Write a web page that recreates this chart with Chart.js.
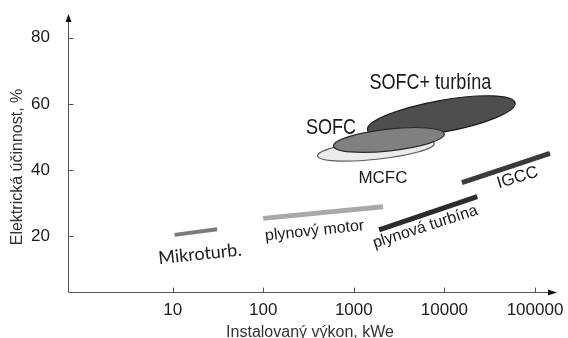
<!DOCTYPE html>
<html>
<head>
<meta charset="utf-8">
<script src="https://cdn.jsdelivr.net/npm/chart.js@4.4.1/dist/chart.umd.min.js"></script>
<style>
  html, body { margin: 0; padding: 0; background: #fff; }
  #wrap { width: 568px; height: 338px; }
</style>
</head>
<body>
<div id="wrap"><canvas id="c"></canvas></div>
<script>
// Axis ticks
const xTicks = [10, 100, 1000, 10000, 100000];
const yTicks = [20, 40, 60, 80];

// Engines and turbines: power range (kWe) and electrical efficiency (%) at both ends
const lineNames = ['Mikroturb.', 'plynový motor', 'plynová turbína', 'IGCC'];
const linePowerKW = [[10.5, 31], [100, 2100], [1900, 23000], [15600, 146000]];
const lineEfficiency = [[20.3, 22.0], [25.3, 28.8], [21.8, 31.9], [36.1, 45.0]];

// Fuel cells: ends of the long axis of each region and its half-thickness (% points)
const cellNames = ['SOFC+ turbína', 'MCFC', 'SOFC'];
const cellPowerKW = [[1416, 60300], [398, 7730], [598, 9960]];
const cellEfficiency = [[52.1, 60.3], [44.2, 48.0], [47.2, 50.9]];
const cellSpread = [4.8, 2.9, 3.3];

// Look of each mark
const lineStyle = {
  'Mikroturb.':      { color: '#7a7a7a', width: 4 },
  'plynový motor':   { color: '#a9a9a9', width: 5 },
  'plynová turbína': { color: '#2b2b2b', width: 5 },
  'IGCC':            { color: '#3a3a3a', width: 5 }
};
const cellStyle = {
  'SOFC+ turbína': { fill: '#4e4e4e', stroke: '#1c1c1c' },
  'MCFC':          { fill: '#ebebeb', stroke: '#5a5a5a' },
  'SOFC':          { fill: '#808080', stroke: '#2a2a2a' }
};

// Name tags placed in data space (kWe, %)
const tags = [
  { text: 'SOFC+ turbína',   at: [6990, 66.3],  angle: 0,   font: '22px "Liberation Sans"', squeeze: 0.82 },
  { text: 'SOFC',            at: [561, 52.6],   angle: 0,   font: '22px "Liberation Sans"', squeeze: 0.82 },
  { text: 'MCFC',            at: [2097, 37.4],  angle: 0,   font: '17px "Liberation Sans"' },
  { text: 'IGCC',            at: [64200, 37.6], angle: -17, font: '17px "Liberation Sans"' },
  { text: 'Mikroturb.',      at: [20, 14.5],    angle: -6,  font: '18px Lato' },
  { text: 'plynový motor',   at: [369, 21.5],   angle: -6,  font: '16px "Liberation Sans"' },
  { text: 'plynová turbína', at: [6150, 22.7],  angle: -18, font: '16px "Liberation Sans"' }
];

const datasets = lineNames.map((name, i) => ({
  label: name,
  type: 'line',
  showLine: true,
  data: [
    { x: linePowerKW[i][0], y: lineEfficiency[i][0] },
    { x: linePowerKW[i][1], y: lineEfficiency[i][1] }
  ],
  borderColor: lineStyle[name].color,
  borderWidth: lineStyle[name].width,
  borderCapStyle: 'butt',
  pointRadius: 0,
  pointHoverRadius: 0,
  clip: false
}));

// Fuel-cell regions drawn as ellipses in the chart's own coordinates
const cellRegions = {
  id: 'cellRegions',
  beforeDatasetsDraw(chart) {
    const { ctx, scales: { x, y } } = chart;
    cellNames.forEach((name, i) => {
      const x1 = x.getPixelForValue(cellPowerKW[i][0]);
      const x2 = x.getPixelForValue(cellPowerKW[i][1]);
      const y1 = y.getPixelForValue(cellEfficiency[i][0]);
      const y2 = y.getPixelForValue(cellEfficiency[i][1]);
      const cx = (x1 + x2) / 2, cy = (y1 + y2) / 2;
      const a = Math.hypot(x2 - x1, y2 - y1) / 2;
      const b = Math.abs(y.getPixelForValue(0) - y.getPixelForValue(cellSpread[i]));
      const rot = Math.atan2(y2 - y1, x2 - x1);
      ctx.save();
      ctx.beginPath();
      ctx.ellipse(cx, cy, a, b, rot, 0, Math.PI * 2);
      ctx.fillStyle = cellStyle[name].fill;
      ctx.fill();
      ctx.lineWidth = 1.2;
      ctx.strokeStyle = cellStyle[name].stroke;
      ctx.stroke();
      ctx.restore();
    });
  }
};

// Name tags next to the marks
const nameTags = {
  id: 'nameTags',
  afterDatasetsDraw(chart) {
    const { ctx, scales: { x, y } } = chart;
    tags.forEach(t => {
      ctx.save();
      ctx.translate(x.getPixelForValue(t.at[0]), y.getPixelForValue(t.at[1]));
      ctx.rotate(t.angle * Math.PI / 180);
      if (t.squeeze) ctx.scale(t.squeeze, 1);
      ctx.font = t.font;
      ctx.fillStyle = '#1a1a1a';
      ctx.textAlign = 'center';
      ctx.textBaseline = 'middle';
      ctx.fillText(t.text, 0, 0);
      ctx.restore();
    });
  }
};

// Axis lines with arrow heads, inward tick marks and the vertical axis title
const axesDecor = {
  id: 'axesDecor',
  afterDraw(chart) {
    const { ctx, chartArea: { left, right, top, bottom }, scales: { x, y } } = chart;
    const ax = Math.round(left) + 0.5;
    const ay = Math.round(bottom) + 0.5;
    ctx.save();
    ctx.strokeStyle = '#555';
    ctx.fillStyle = '#111';
    ctx.lineWidth = 1;
    ctx.beginPath();
    ctx.moveTo(ax, ay);
    ctx.lineTo(ax, top - 1);
    ctx.moveTo(ax, ay);
    ctx.lineTo(right + 1, ay);
    // tick marks
    y.ticks.forEach(t => {
      const py = Math.round(y.getPixelForValue(t.value)) + 0.5;
      ctx.moveTo(ax, py);
      ctx.lineTo(ax + 5, py);
    });
    x.ticks.forEach(t => {
      const px = Math.round(x.getPixelForValue(t.value)) + 0.5;
      ctx.moveTo(px, ay);
      ctx.lineTo(px, ay - 5);
    });
    ctx.stroke();
    // arrow heads
    ctx.beginPath();
    ctx.moveTo(ax, top - 4);
    ctx.lineTo(ax - 3, top + 4);
    ctx.lineTo(ax + 3, top + 4);
    ctx.closePath();
    ctx.moveTo(right + 5, ay);
    ctx.lineTo(right - 4, ay - 3);
    ctx.lineTo(right - 4, ay + 3);
    ctx.closePath();
    ctx.fill();
    // vertical axis title
    ctx.translate(18, 167);
    ctx.rotate(-Math.PI / 2);
    ctx.font = '16px "Liberation Sans"';
    ctx.fillStyle = '#333';
    ctx.textAlign = 'center';
    ctx.textBaseline = 'middle';
    ctx.fillText('Elektrická účinnost, %', 0, 0);
    ctx.restore();
  }
};

new Chart(document.getElementById('c'), {
  type: 'scatter',
  data: { datasets },
  options: {
    responsive: true,
    maintainAspectRatio: false,
    animation: false,
    events: [],
    layout: { padding: { top: 18, right: 16, left: 0, bottom: 0 } },
    plugins: { legend: { display: false }, tooltip: { enabled: false } },
    scales: {
      x: {
        type: 'logarithmic',
        min: 0.7234,
        max: 153950,
        afterBuildTicks: s => { s.ticks = xTicks.map(v => ({ value: v })); },
        afterFit: s => { s.height = 46; s.paddingLeft = 0; s.paddingRight = 0; },
        grid: { display: false, drawTicks: false },
        border: { display: false },
        ticks: {
          autoSkip: false,
          maxRotation: 0,
          padding: 8,
          color: '#1a1a1a',
          font: { family: 'Liberation Sans', size: 17 },
          callback: v => String(v)
        },
        title: {
          display: true,
          text: 'Instalovaný výkon, kWe',
          color: '#333',
          font: { family: 'Liberation Sans', size: 16 },
          padding: { top: 4, bottom: -4 }
        }
      },
      y: {
        type: 'linear',
        min: 3,
        max: 86,
        afterBuildTicks: s => { s.ticks = yTicks.map(v => ({ value: v })); },
        afterFit: s => { s.width = 68; s.paddingTop = 0; s.paddingBottom = 0; },
        grid: { display: false, drawTicks: false },
        border: { display: false },
        ticks: {
          padding: 18,
          color: '#1a1a1a',
          font: { family: 'Liberation Sans', size: 17 },
          callback: v => String(v)
        }
      }
    }
  },
  plugins: [cellRegions, nameTags, axesDecor]
});
</script>
</body>
</html>
